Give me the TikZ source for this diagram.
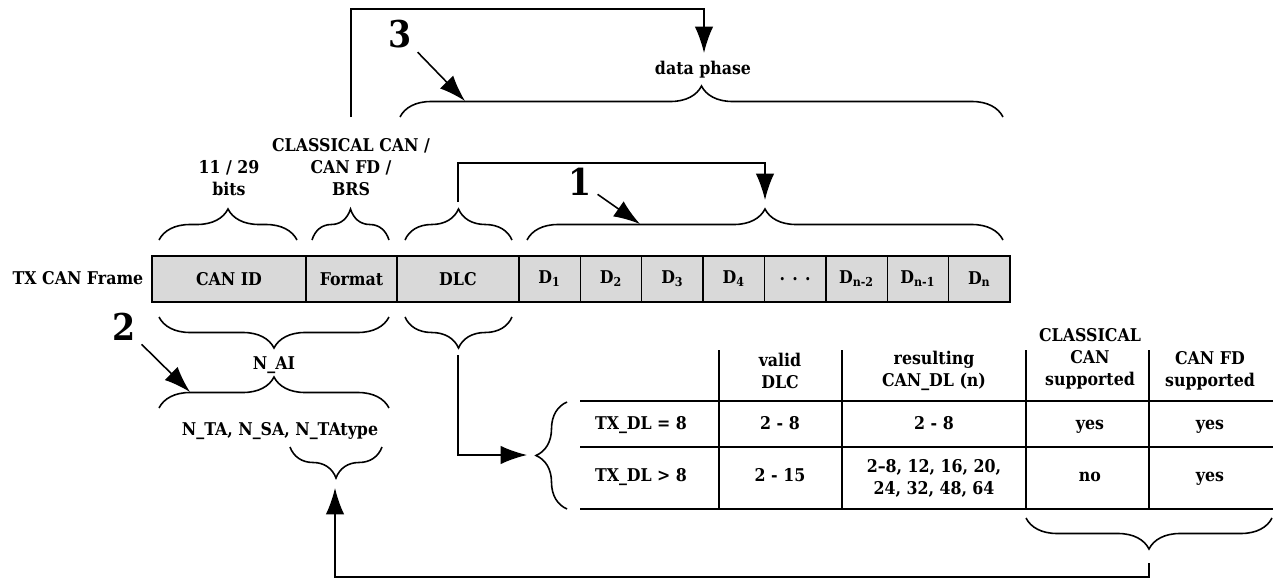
\documentclass[tikz,border=0pt]{standalone}
\usepackage{fontspec}
\setmainfont{DejaVu Serif Condensed}
\usetikzlibrary{arrows.meta,decorations.pathreplacing}

\tikzset{
  cell/.style={draw, line width=0.8pt, fill=black!15, minimum height=0.92cm,
    inner sep=0pt, outer sep=0pt, anchor=west, font=\bfseries\fontsize{10}{12}\selectfont},
  lbl/.style={align=center, inner sep=0pt, font=\bfseries\fontsize{10}{12.5}\selectfont},
  tcell/.style={lbl, text height=0.72em, text depth=0.22em},
  num/.style={inner sep=3pt, font=\bfseries\fontsize{21}{24}\selectfont},
  brc/.style={decorate, decoration={brace, amplitude=0.62cm}, line width=0.9pt},
  pointer/.style={-{Latex[length=15pt,width=10.5pt]}, line width=0.9pt},
}

\begin{document}
\begin{tikzpicture}[x=0.02cm, y=-0.02cm, line width=0.9pt]
    \useasboundingbox (0,0) rectangle (1279,578);
%    \draw [help lines] (0,0) grid[step=50] (1279,578);

    %% the frame
    \node (txlbl) [tcell] at (78,280) {TX CAN Frame};
    \node (canid) [cell, minimum width=3.08cm] at (152,279) {CAN ID};
    \node (fmt) [cell, minimum width=1.82cm] at (canid.east) {Format};
    \node (dlc) [cell, minimum width=2.44cm] at (fmt.east) {DLC};
    \node (d1) [cell, minimum width=1.228cm] at (dlc.east) {D\textsubscript{1}};
    \node (d2) [cell, minimum width=1.228cm] at (d1.east) {D\textsubscript{2}};
    \node (d3) [cell, minimum width=1.228cm] at (d2.east) {D\textsubscript{3}};
    \node (d4) [cell, minimum width=1.228cm] at (d3.east) {D\textsubscript{4}};
    \node (dots) [cell, minimum width=1.228cm] at (d4.east) {. . .};
    \node (dn2) [cell, minimum width=1.228cm] at (dots.east) {D\textsubscript{n-2}};
    \node (dn1) [cell, minimum width=1.228cm] at (dn2.east) {D\textsubscript{n-1}};
    \node (dn) [cell, minimum width=1.228cm] at (dn1.east) {D\textsubscript{n}};

    %% braces above the frame
    \draw [brc] (159,240) -- (297,240);
    \draw [brc] (312,240) -- (389,240);
    \draw [brc] (405,240) -- (512,240);
    \draw [brc] (527,240) -- (1003,240);
    \draw [brc] (400,117) -- (1003,117);

    \node (bits) [lbl] at (229,178) {11 / 29\\bits};
    \node (fmtlbl) [lbl] at (351,167) {CLASSICAL CAN /\\CAN FD /\\BRS};
    \node (phase) [tcell] at (703,70) {data phase};

    %% braces below the frame
    \draw [brc] (389,317) -- (159,317);
    \draw [brc] (512,317) -- (405,317);
    \draw [brc] (159,408) -- (389,408);
    \draw [brc] (382,447) -- (290,447);

    \node (nai) [tcell] at (274,365) {N\_AI};
    \node (nta) [tcell] at (280,431) {N\_TA, N\_SA, N\_TAtype};

    %% the table
    \draw (580,401) -- (1273,401);
    \draw (580,447) -- (1273,447);
    \draw [line width=1.5pt] (580,509) -- (1273,509);
    \draw (719,350) -- (719,509);
    \draw (842,350) -- (842,509);
    \draw (1026,350) -- (1026,509);
    \draw (1149,350) -- (1149,509);

    \node (hvalid) [lbl] at (780,371) {valid\\DLC};
    \node (hres) [lbl] at (934,371) {resulting\\CAN\_DL (n)};
    \node (hclass) [lbl] at (1090,359) {CLASSICAL\\CAN\\supported};
    \node (hfd) [lbl] at (1210,371) {CAN FD\\supported};

    \node (r1) [tcell] at (641,425) {TX\_DL = 8};
    \node (r1valid) [tcell] at (780,425) {2 - 8};
    \node (r1res) [tcell] at (934,425) {2 - 8};
    \node (r1class) [tcell] at (1090,425) {yes};
    \node (r1fd) [tcell] at (1210,425) {yes};

    \node (r2) [tcell] at (641,477) {TX\_DL > 8};
    \node (r2valid) [tcell] at (780,477) {2 - 15};
    \node (r2res) [lbl] at (934,478) {2--8, 12, 16, 20,\\24, 32, 48, 64};
    \node (r2class) [tcell] at (1090,477) {no};
    \node (r2fd) [tcell] at (1210,477) {yes};

    \draw [brc] (567,509) -- (567,402);
    \draw [brc] (1272,518) -- (1026,518);

    %% connectors
    \coordinate (fmttop) at (351,117);
    \coordinate (phasetip) at (704,53);
    \coordinate (dlctop) at (458,202);
    \coordinate (datatip) at (765,200);
    \coordinate (dlcbot) at (458,355);
    \coordinate (tblin) at (527,455);
    \coordinate (flagtip) at (1149,563);
    \coordinate (tatip) at (335,488);

    \draw [pointer] (fmttop) -- ++(0,-108) -| (phasetip);
    \draw [pointer] (dlctop) -- ++(0,-39) -| (datatip);
    \draw [pointer] (dlcbot) |- (tblin);
    \draw [pointer] (flagtip) -- ++(0,14) -| (tatip);

    %% numbered pointers
    \node (n1) [num] at (580,182) {1};
    \node (n2) [num] at (124,327) {2};
    \node (n3) [num] at (400,34) {3};
    \coordinate (p1) at (640,224);
    \coordinate (p2) at (190,392);
    \coordinate (p3) at (465,101);

    \draw [pointer] (n1) -- (p1);
    \draw [pointer] (n2) -- (p2);
    \draw [pointer] (n3) -- (p3);
\end{tikzpicture}
\end{document}
